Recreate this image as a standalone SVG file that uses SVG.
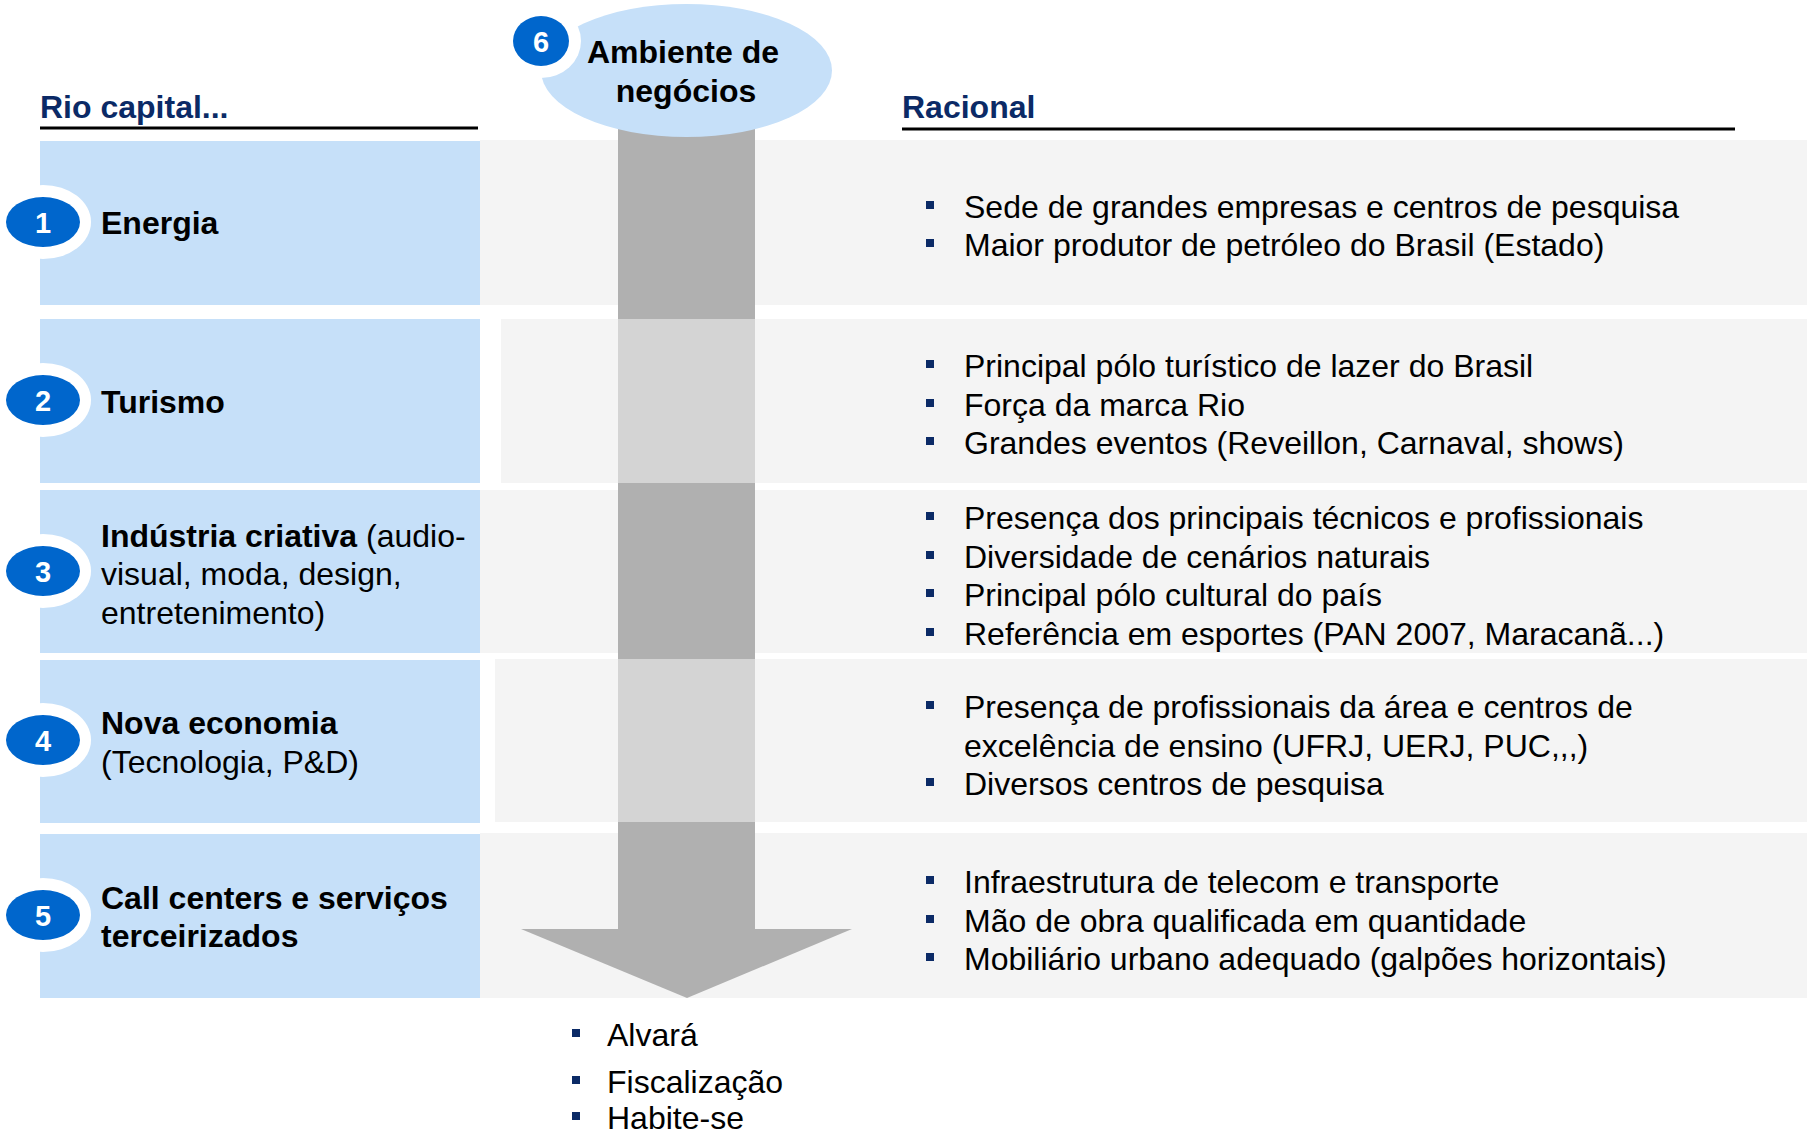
<svg xmlns="http://www.w3.org/2000/svg" xmlns:xlink="http://www.w3.org/1999/xlink" width="1807" height="1133" viewBox="0 0 1807 1133">
<style>
.blue{fill:#c6e0f9}
.gray{fill:#f4f4f4}
.dark{fill:#b0b0b0}
.light{fill:#d4d4d4}
.t{font-family:"Liberation Sans",Arial,sans-serif;font-size:32px;fill:#000}
.b{font-weight:bold}
.h{font-family:"Liberation Sans",Arial,sans-serif;font-size:32px;font-weight:bold;fill:#0b2a66}
.num{font-family:"Liberation Sans",Arial,sans-serif;font-size:29px;font-weight:bold;fill:#fff;text-anchor:middle}
.badge{fill:#0066cc}
.ring{fill:#fff}
.rule{stroke:#000;stroke-width:3}
</style>
<defs>
<rect id="sq" x="0" y="0" width="8" height="8" fill="#0b2a66"/>
</defs>
<rect width="1807" height="1133" fill="#fff"/>

<g id="headers">
<text class="h" x="40" y="118">Rio capital...</text>
<line class="rule" x1="40" y1="128" x2="478" y2="128"/>
<text class="h" x="902" y="118">Racional</text>
<line class="rule" x1="902" y1="129" x2="1735" y2="129"/>
</g>

<g id="backgrounds">
<rect class="gray" x="480" y="140" width="1327" height="165"/>
<rect class="gray" x="501" y="319" width="1306" height="164"/>
<rect class="gray" x="480" y="490" width="1327" height="163"/>
<rect class="gray" x="495" y="659" width="1312" height="163"/>
<rect class="gray" x="480" y="833" width="1327" height="165"/>
</g>

<g id="connectors">
<rect class="dark" x="618" y="100" width="137" height="830"/>
<rect class="light" x="618" y="319" width="137" height="164"/>
<rect class="light" x="618" y="659" width="137" height="163"/>
<polygon class="dark" points="521,929 852,929 687,998"/>
</g>

<g id="node6">
<ellipse class="blue" cx="686.5" cy="70.5" rx="145.5" ry="66.5"/>
<ellipse class="ring" cx="541" cy="41" rx="40" ry="37"/>
<ellipse class="badge" cx="541" cy="41" rx="28" ry="25"/>
<text class="num" x="541" y="52">6</text>
<text class="t b" x="683" y="63" text-anchor="middle">Ambiente de</text>
<text class="t b" x="686" y="102" text-anchor="middle">negócios</text>
</g>

<g id="node1">
<rect class="blue" x="40" y="141" width="440" height="164"/>
<ellipse class="ring" cx="43" cy="222" rx="48" ry="37"/>
<ellipse class="badge" cx="43" cy="222" rx="37" ry="25"/>
<text class="num" x="43" y="233">1</text>
<text class="t b" x="101" y="234">Energia</text>
<use xlink:href="#sq" x="926" y="201"/>
<text class="t" x="964" y="218">Sede de grandes empresas e centros de pesquisa</text>
<use xlink:href="#sq" x="926" y="239"/>
<text class="t" x="964" y="256">Maior produtor de petróleo do Brasil (Estado)</text>
</g>

<g id="node2">
<rect class="blue" x="40" y="319" width="440" height="164"/>
<ellipse class="ring" cx="43" cy="400" rx="48" ry="37"/>
<ellipse class="badge" cx="43" cy="400" rx="37" ry="25"/>
<text class="num" x="43" y="411">2</text>
<text class="t b" x="101" y="413">Turismo</text>
<use xlink:href="#sq" x="926" y="360"/>
<text class="t" x="964" y="377">Principal pólo turístico de lazer do Brasil</text>
<use xlink:href="#sq" x="926" y="399"/>
<text class="t" x="964" y="416">Força da marca Rio</text>
<use xlink:href="#sq" x="926" y="437"/>
<text class="t" x="964" y="454">Grandes eventos (Reveillon, Carnaval, shows)</text>
</g>

<g id="node3">
<rect class="blue" x="40" y="490" width="440" height="163"/>
<ellipse class="ring" cx="43" cy="571" rx="48" ry="37"/>
<ellipse class="badge" cx="43" cy="571" rx="37" ry="25"/>
<text class="num" x="43" y="582">3</text>
<text class="t" x="101" y="547"><tspan class="b">Indústria criativa</tspan> (audio-</text>
<text class="t" x="101" y="585">visual, moda, design,</text>
<text class="t" x="101" y="624">entretenimento)</text>
<use xlink:href="#sq" x="926" y="512"/>
<text class="t" x="964" y="529">Presença dos principais técnicos e profissionais</text>
<use xlink:href="#sq" x="926" y="551"/>
<text class="t" x="964" y="568">Diversidade de cenários naturais</text>
<use xlink:href="#sq" x="926" y="589"/>
<text class="t" x="964" y="606">Principal pólo cultural do país</text>
<use xlink:href="#sq" x="926" y="628"/>
<text class="t" x="964" y="645">Referência em esportes (PAN 2007, Maracanã...)</text>
</g>

<g id="node4">
<rect class="blue" x="40" y="660" width="440" height="163"/>
<ellipse class="ring" cx="43" cy="740" rx="48" ry="37"/>
<ellipse class="badge" cx="43" cy="740" rx="37" ry="25"/>
<text class="num" x="43" y="751">4</text>
<text class="t b" x="101" y="734">Nova economia</text>
<text class="t" x="101" y="773">(Tecnologia, P&amp;D)</text>
<use xlink:href="#sq" x="926" y="701"/>
<text class="t" x="964" y="718">Presença de profissionais da área e centros de</text>
<text class="t" x="964" y="757">excelência de ensino (UFRJ, UERJ, PUC,,,)</text>
<use xlink:href="#sq" x="926" y="778"/>
<text class="t" x="964" y="795">Diversos centros de pesquisa</text>
</g>

<g id="node5">
<rect class="blue" x="40" y="834" width="440" height="164"/>
<ellipse class="ring" cx="43" cy="915" rx="48" ry="37"/>
<ellipse class="badge" cx="43" cy="915" rx="37" ry="25"/>
<text class="num" x="43" y="926">5</text>
<text class="t b" x="101" y="909">Call centers e serviços</text>
<text class="t b" x="101" y="947">terceirizados</text>
<use xlink:href="#sq" x="926" y="876"/>
<text class="t" x="964" y="893">Infraestrutura de telecom e transporte</text>
<use xlink:href="#sq" x="926" y="915"/>
<text class="t" x="964" y="932">Mão de obra qualificada em quantidade</text>
<use xlink:href="#sq" x="926" y="953"/>
<text class="t" x="964" y="970">Mobiliário urbano adequado (galpões horizontais)</text>
</g>

<g id="bottom-list">
<use xlink:href="#sq" x="572" y="1029"/>
<text class="t" x="607" y="1046">Alvará</text>
<use xlink:href="#sq" x="572" y="1076"/>
<text class="t" x="607" y="1093">Fiscalização</text>
<use xlink:href="#sq" x="572" y="1112"/>
<text class="t" x="607" y="1129">Habite-se</text>
</g>
</svg>
